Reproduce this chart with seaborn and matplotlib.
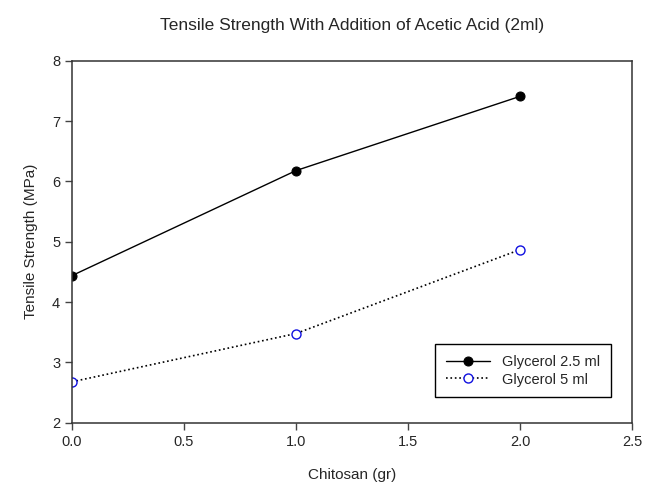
import matplotlib
matplotlib.use("Agg")
import matplotlib.pyplot as plt
import seaborn as sns
import pandas as pd

chitosan = [0.0, 1.0, 2.0]
glycerol_25 = [4.44, 6.18, 7.41]
glycerol_5 = [2.68, 3.48, 4.87]
labels = ['Glycerol 2.5 ml', 'Glycerol 5 ml']

df1 = pd.DataFrame({'chitosan': chitosan, 'ts': glycerol_25})
df2 = pd.DataFrame({'chitosan': chitosan, 'ts': glycerol_5})

sns.set_style('ticks')
plt.rcParams['font.family'] = ['Liberation Sans', 'DejaVu Sans']

fig = plt.figure(figsize=(6.55, 4.86), dpi=100)
ax = fig.add_axes([0.110, 0.130, 0.855, 0.745])

sns.lineplot(data=df1, x='chitosan', y='ts', ax=ax, color='black', lw=1,
             marker='o', markersize=6.5, markerfacecolor='black',
             markeredgecolor='black', label=labels[0])
sns.lineplot(data=df2, x='chitosan', y='ts', ax=ax, color='black', lw=1.2,
             linestyle=':', marker='o', markersize=6.5, markerfacecolor='white',
             markeredgecolor='#1010e0', markeredgewidth=1, label=labels[1])

ax.set_xlim(0, 2.5)
ax.set_ylim(2, 8)
ax.set_xticks([0, 0.5, 1.0, 1.5, 2.0, 2.5])
ax.set_xticklabels(['0.0', '0.5', '1.0', '1.5', '2.0', '2.5'])
ax.set_yticks([2, 3, 4, 5, 6, 7, 8])
ax.tick_params(direction='out', length=5, width=1, labelsize=10.5, color='#444444')
for s in ax.spines.values():
    s.set_linewidth(1.1)
    s.set_color('#333333')

ax.set_xlabel('Chitosan (gr)', fontsize=11, labelpad=14)
ax.set_ylabel('Tensile Strength (MPa)', fontsize=11, labelpad=10)
ax.set_title('Tensile Strength With Addition of Acetic Acid (2ml)', fontsize=12.5, pad=22)

leg = ax.legend(loc='lower right', bbox_to_anchor=(0.962, 0.070), fontsize=10.5,
                frameon=True, fancybox=False, edgecolor='black', framealpha=1,
                handlelength=3.0, borderpad=0.75, labelspacing=0.25,
                borderaxespad=0)
leg.get_frame().set_linewidth(1)

fig.savefig('out.png', dpi=100)
